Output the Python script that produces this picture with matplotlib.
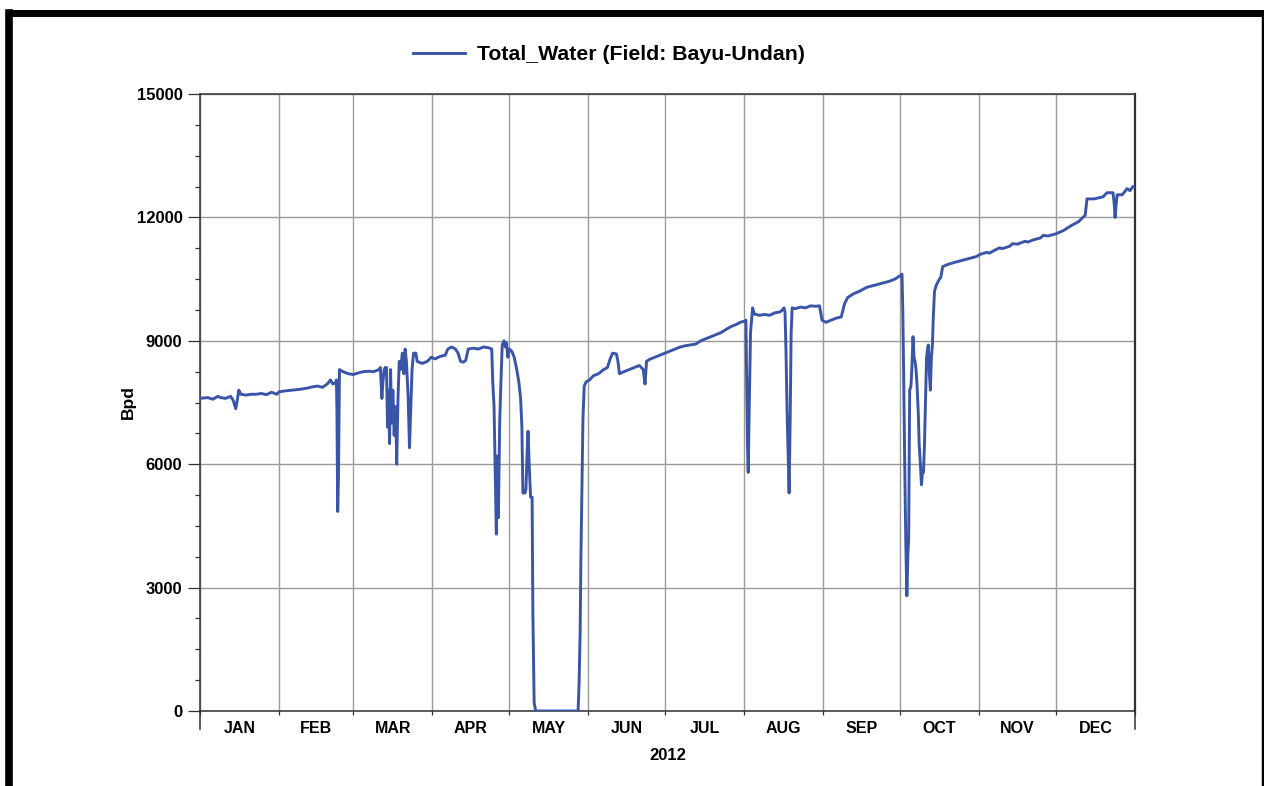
import numpy as np
import matplotlib
matplotlib.use("Agg")
import matplotlib.pyplot as plt
from matplotlib.lines import Line2D
from matplotlib.ticker import FixedLocator, NullFormatter, FixedFormatter, MultipleLocator

plt.rcParams['font.family'] = ['Liberation Sans', 'DejaVu Sans']

# ---- data (days since 2012-01-01, water in Bpd) ----
days = [0, 3, 5, 7, 8, 10, 12, 13, 14, 14.7, 15.2, 16, 18, 20, 22, 24, 26, 28, 30, 31,
        33, 36, 39, 42, 44, 46, 48, 50, 51, 52, 53, 53.4, 53.6, 53.9, 54.2, 54.6, 56, 58, 60,
        62, 64, 66, 68, 70, 70.6, 71.2, 71.6, 72.1, 72.5, 73, 73.4, 73.8, 74.2, 74.6, 75, 75.5,
        76, 76.6, 77, 77.5, 78, 78.5, 79.2, 79.8, 80.3, 80.8, 81.5, 82, 82.6, 83, 83.6, 84.5,
        85, 87, 89, 90.5,
        92, 94, 96, 97, 98.5, 100, 101, 102, 103, 104, 105, 107, 109, 111, 113, 114.2, 114.6,
        115.1, 115.6, 116, 116.4, 116.8, 117.3, 117.8, 118.3, 119, 119.5, 120, 120.5, 121, 122,
        123, 124, 124.8, 125.5, 126, 126.4, 127.2, 127.6, 128.0, 128.4, 128.8, 129.4, 130.0,
        130.3, 130.8, 131.4,
        148, 148.4, 148.8, 149.1, 149.5, 149.9, 150.4, 151.1, 152.5, 154, 156, 158, 159.5,
        160.5, 161.5, 163, 163.6, 164.2, 166, 168, 170, 172, 173.5, 174.2, 174.8, 176, 178, 180,
        182, 184, 186, 188, 190, 192, 194, 196, 198, 200, 202, 204, 206, 208, 210, 211.5, 213.3,
        213.7, 214.0, 214.3, 214.6, 215.0, 215.5, 215.9, 216.3, 217, 219, 221, 223, 225, 227,
        228, 228.6, 229, 229.4, 229.8, 230.2, 230.6, 231.0, 231.4, 231.8, 233, 235, 237, 239,
        241, 242.5, 243.5, 245, 247, 249, 251, 252.3, 253.5, 256, 258, 261, 264, 267, 270, 272,
        274, 274.8, 275.1, 275.4, 275.8, 276.3, 276.7, 277.1, 277.4, 277.8, 278.3, 278.7, 279.1,
        279.5, 279.9, 280.3, 280.7, 281.2, 281.5, 282.0, 282.4, 282.8, 283.2, 283.6, 284.0,
        284.4, 284.8, 285.1, 285.5, 285.9, 286.3, 286.7, 287.0, 287.5, 288.2, 289, 290, 290.7,
        292.4, 295, 298, 301, 304, 305.3,
        308, 309, 311, 313, 314, 317, 318, 320, 323, 324, 326, 329, 330, 332, 335,
        338, 341, 344, 345.6, 346.5, 347.2, 350, 353.5, 355, 357.4, 357.9, 358.2, 358.6, 359,
        361, 362.9, 364, 365.2, 366]

water = [7600, 7620, 7580, 7650, 7620, 7600, 7650, 7550, 7350, 7600, 7800, 7700, 7680, 7700, 7700, 7720, 7690, 7750, 7700, 7760,
         7780, 7800, 7820, 7850, 7880, 7900, 7870, 7960, 8050, 7950, 7980, 8050, 7300, 4850, 5700, 8300, 8250, 8200, 8180,
         8220, 8250, 8260, 8250, 8300, 8350, 7600, 8000, 8300, 8350, 8350, 6900, 7800, 6500, 8300, 7000, 7800,
         6700, 7400, 6000, 7600, 8500, 8300, 8700, 8200, 8800, 8500, 7600, 6400, 7500, 8300, 8700, 8700,
         8500, 8450, 8500, 8600,
         8560, 8620, 8650, 8800, 8850, 8800, 8700, 8500, 8480, 8520, 8800, 8820, 8800, 8850, 8830, 8800, 8000,
         7400, 5600, 4300, 6200, 4700, 7000, 8000, 8900, 9000, 8850, 8950, 8600, 8800, 8750,
         8600, 8300, 8000, 7600, 6900, 5300, 5300, 5400, 6200, 6800, 6100, 5200, 5200,
         2400, 200, 0,
         0, 700, 1900, 3700, 5400, 7100, 7900, 8000, 8050, 8150, 8200, 8300, 8350,
         8550, 8700, 8680, 8500, 8200, 8250, 8300, 8350, 8400, 8300, 7950, 8500, 8550, 8600, 8650,
         8700, 8750, 8800, 8850, 8880, 8900, 8920, 9000, 9050, 9100, 9150, 9200, 9280, 9350, 9400, 9450, 9480,
         9500, 8000, 6500, 5800, 7400, 9200, 9500, 9800, 9650, 9620, 9640, 9620, 9680, 9700,
         9750, 9800, 9700, 8700, 7300, 6300, 5300, 7000, 9200, 9800, 9780, 9820, 9800, 9850,
         9840, 9850, 9500, 9450, 9500, 9550, 9580, 9900, 10050, 10150, 10200, 10300, 10350, 10400, 10450, 10500,
         10580, 10620, 9750, 8400, 6300, 4000, 2800, 3800, 4200, 7800, 7900, 8400, 9100,
         8600, 8500, 8300, 7900, 7200, 6500, 6000, 5500, 5800, 5800, 6500, 7500,
         8600, 8800, 8900, 8200, 7800, 8600, 8900, 9500, 10200, 10350, 10450, 10550, 10800,
         10850, 10900, 10950, 11000, 11050, 11100,
         11150, 11130, 11200, 11260, 11240, 11300, 11360, 11350, 11420, 11400, 11450, 11500, 11560, 11550, 11600,
         11680, 11800, 11900, 12000, 12050, 12450, 12450, 12500, 12600, 12600, 12300, 12000, 12300, 12550,
         12550, 12700, 12650, 12750, 12750]

months = ["JAN", "FEB", "MAR", "APR", "MAY", "JUN", "JUL", "AUG", "SEP", "OCT", "NOV", "DEC"]
year_label = "2012"
series_label = "Total_Water (Field: Bayu-Undan)"
y_label = "Bpd"
y_ticks = [0, 3000, 6000, 9000, 12000, 15000]

# month boundaries from the calendar
month_starts = (np.arange('2012-01', '2013-02', dtype='datetime64[M]').astype('datetime64[D]')
                - np.datetime64('2012-01-01')).astype(float)
month_mids = (month_starts[:-1] + month_starts[1:]) / 2

# ---- figure ----
fig = plt.figure(figsize=(12.64, 7.86), dpi=100)
W, H = 1264, 786
ax = fig.add_axes([200 / W, 1 - 711 / H, (1135 - 200) / W, (711 - 94) / H])

line_color = '#3A55A8'
lw = 2.1
ax.plot(days, water, color=line_color, lw=lw, label=series_label, zorder=3)

ax.set_xlim(month_starts[0], month_starts[-1])
ax.set_ylim(0, 15000)

# y axis
ax.yaxis.set_major_locator(FixedLocator(y_ticks))
ax.yaxis.set_minor_locator(MultipleLocator(750))
ax.tick_params(axis='y', which='major', length=8.6, width=0.9, direction='out', pad=4,
               labelsize=12, colors='#303030', labelcolor='black')
ax.tick_params(axis='y', which='minor', length=3.6, width=0.9, direction='out', colors='#303030')
for t in ax.get_yticklabels():
    t.set_fontweight('bold')

# x axis: ticks at month starts, labels at mid-months
ax.xaxis.set_major_locator(FixedLocator(month_starts))
ax.xaxis.set_major_formatter(NullFormatter())
ax.xaxis.set_minor_locator(FixedLocator(month_mids))
ax.xaxis.set_minor_formatter(FixedFormatter(months))
ax.tick_params(axis='x', which='major', length=3.2, width=0.9, direction='out', colors='#303030')
ax.tick_params(axis='x', which='minor', length=0, pad=7, labelsize=11.5, labelcolor='black')
for t in ax.get_xticklabels(minor=True):
    t.set_fontweight('bold')

ax.grid(True, which='major', color='#9a9a9a', lw=1.0, zorder=0)

for s in ax.spines.values():
    s.set_color('#303030')
    s.set_linewidth(1.1)
ax.spines['right'].set_linewidth(1.6)

# spine extensions below the x axis
ext = 18 / (711 - 94)
for xa in (0, 1):
    ax.add_line(Line2D([xa, xa], [0, -ext], transform=ax.transAxes, color='#303030',
                       lw=1.1, clip_on=False))

ax.set_ylabel(y_label, fontsize=12.5, fontweight='bold')
ax.yaxis.set_label_coords((136 - 200) / (1135 - 200), 0.5)
fig.text(668 / W, 1 - 755 / H, year_label, ha='center', va='center', fontsize=12,
         fontweight='bold')

leg = fig.legend(handles=[Line2D([], [], color=line_color, lw=lw)], labels=[series_label],
                 loc='center', bbox_to_anchor=(609 / W, 1 - 55 / H), frameon=False,
                 prop={'weight': 'bold', 'size': 15.3}, handlelength=2.45, handletextpad=0.6)

# black frame
fig.add_artist(Line2D([8.5 / W, 8.5 / W], [0, 1 - 13 / H], color='black', lw=5.5,
                      transform=fig.transFigure, solid_capstyle='projecting'))
fig.add_artist(Line2D([8.5 / W, 1], [1 - 13 / H, 1 - 13 / H], color='black', lw=5,
                      transform=fig.transFigure, solid_capstyle='butt'))
fig.add_artist(Line2D([1262.5 / W, 1262.5 / W], [0, 1 - 13 / H], color='black', lw=2.5,
                      transform=fig.transFigure))

fig.savefig('out.png', dpi=100)
